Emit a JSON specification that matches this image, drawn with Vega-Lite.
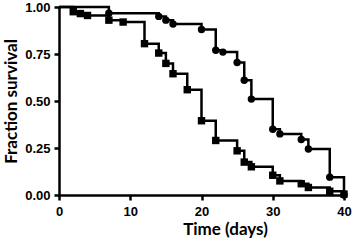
{
  "$schema": "https://vega.github.io/schema/vega-lite/v6.json",
  "width": 285,
  "height": 188,
  "autosize": {"type": "none"},
  "padding": {"left": 59, "top": 7, "right": 11, "bottom": 52},
  "background": "white",
  "config": {
    "view": {"stroke": null},
    "axis": {
      "grid": false,
      "domainColor": "black",
      "domainWidth": 2.5,
      "tickColor": "black",
      "tickWidth": 2.5,
      "tickSize": 5,
      "labelColor": "black",
      "labelFont": "Liberation Sans",
      "labelFontWeight": "bold",
      "labelFontSize": 13,
      "titleColor": "black",
      "titleFont": "Lato",
      "titleFontWeight": "bold",
      "titleFontSize": 17
    }
  },
  "data": {
    "values": [
      {"group": "A", "t": 0, "s": 1},
      {"group": "A", "t": 7, "s": 0.967},
      {"group": "A", "t": 14, "s": 0.95},
      {"group": "A", "t": 15, "s": 0.93},
      {"group": "A", "t": 16, "s": 0.91},
      {"group": "A", "t": 20, "s": 0.88},
      {"group": "A", "t": 22, "s": 0.77},
      {"group": "A", "t": 23, "s": 0.76},
      {"group": "A", "t": 25, "s": 0.705},
      {"group": "A", "t": 26, "s": 0.61},
      {"group": "A", "t": 27, "s": 0.51},
      {"group": "A", "t": 30, "s": 0.35},
      {"group": "A", "t": 31, "s": 0.325},
      {"group": "A", "t": 34, "s": 0.295},
      {"group": "A", "t": 35, "s": 0.245},
      {"group": "A", "t": 38, "s": 0.095},
      {"group": "A", "t": 40, "s": 0},
      {"group": "B", "t": 0, "s": 1},
      {"group": "B", "t": 2, "s": 0.975},
      {"group": "B", "t": 3, "s": 0.965},
      {"group": "B", "t": 4, "s": 0.955},
      {"group": "B", "t": 7, "s": 0.93},
      {"group": "B", "t": 9, "s": 0.92},
      {"group": "B", "t": 12, "s": 0.805},
      {"group": "B", "t": 14, "s": 0.755},
      {"group": "B", "t": 15, "s": 0.7},
      {"group": "B", "t": 16, "s": 0.645},
      {"group": "B", "t": 18, "s": 0.56},
      {"group": "B", "t": 20, "s": 0.395},
      {"group": "B", "t": 22, "s": 0.29},
      {"group": "B", "t": 25, "s": 0.235},
      {"group": "B", "t": 26, "s": 0.175},
      {"group": "B", "t": 27, "s": 0.15},
      {"group": "B", "t": 30, "s": 0.105},
      {"group": "B", "t": 31, "s": 0.075},
      {"group": "B", "t": 34, "s": 0.06},
      {"group": "B", "t": 35, "s": 0.04},
      {"group": "B", "t": 38, "s": 0.02},
      {"group": "B", "t": 40, "s": 0.005}
    ]
  },
  "encoding": {
    "x": {
      "field": "t",
      "type": "quantitative",
      "scale": {"domain": [0, 40], "nice": false, "zero": true},
      "axis": {"values": [0, 10, 20, 30, 40], "title": "Time (days)", "labelPadding": 5, "titlePadding": 3, "titleX": 166, "labelFlush": false}
    },
    "y": {
      "field": "s",
      "type": "quantitative",
      "scale": {"domain": [0, 1], "nice": false},
      "axis": {"values": [0, 0.25, 0.5, 0.75, 1], "format": ".2f", "title": "Fraction survival", "labelPadding": 4, "titlePadding": 4, "labelFlush": false}
    }
  },
  "layer": [
    {
      "mark": {"type": "line", "interpolate": "step-after", "color": "black", "strokeWidth": 2.5, "clip": false},
      "encoding": {"detail": {"field": "group"}}
    },
    {
      "transform": [{"filter": "datum.t > 0"}],
      "mark": {"type": "point", "filled": true, "color": "black", "opacity": 1, "size": 55, "clip": false},
      "encoding": {
        "shape": {"field": "group", "type": "nominal", "scale": {"domain": ["A", "B"], "range": ["circle", "square"]}, "legend": null}
      }
    }
  ]
}
